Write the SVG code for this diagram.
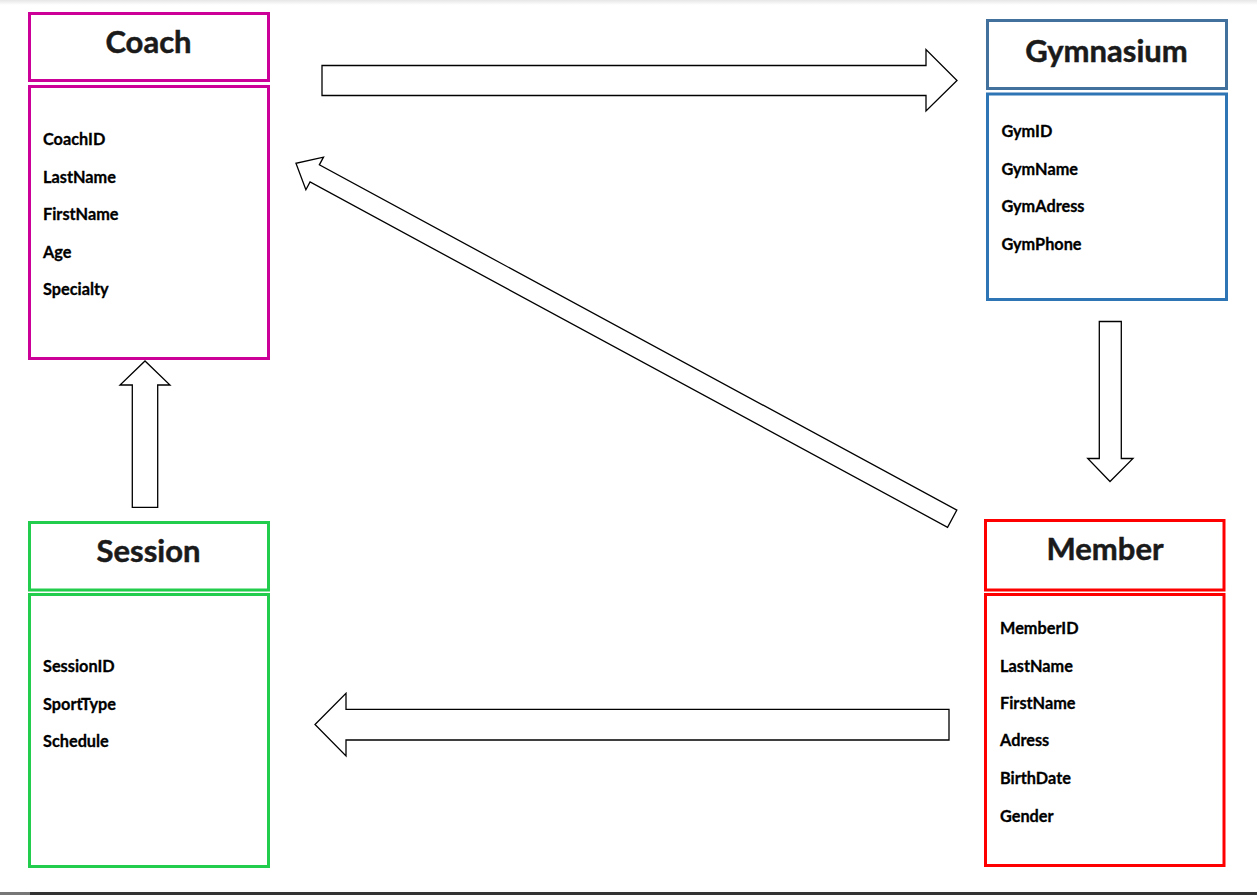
<svg xmlns="http://www.w3.org/2000/svg" width="1257" height="895" viewBox="0 0 1257 895">
  <defs>
    <linearGradient id="topShade" x1="0" y1="0" x2="0" y2="1">
      <stop offset="0" stop-color="#e6e6e6"/>
      <stop offset="1" stop-color="#ffffff"/>
    </linearGradient>
    <style>
      .box { fill: #ffffff; stroke-width: 3; }
      .title { font-family: Lato, "Open Sans", "Liberation Sans", sans-serif; font-weight: bold; font-size: 31px; fill: #1a1a1a; stroke: #1a1a1a; stroke-width: 0.5; text-anchor: middle; }
      .attr { font-family: Lato, "Open Sans", "Liberation Sans", sans-serif; font-weight: bold; font-size: 16.3px; fill: #000000; stroke: #000000; stroke-width: 0.3; }
      .arrow { fill: #ffffff; stroke: #000000; stroke-width: 1.3; stroke-linejoin: miter; }
      .coach { stroke: #cc0099; }
      .gymh { stroke: #41719c; }
      .gymb { stroke: #2e75b6; }
      .session { stroke: #22cc4c; }
      .member { stroke: #ff0000; }
    </style>
  </defs>
  <rect x="0" y="0" width="1257" height="895" fill="#ffffff"/>
  <rect x="0" y="0" width="1257" height="5" fill="url(#topShade)"/>
  <rect x="0" y="892" width="30" height="3" fill="#777777"/>
  <rect x="30" y="892" width="1227" height="3" fill="#333333"/>

  <g id="connectors">
    <!-- Coach -> Gymnasium -->
    <polygon class="arrow" points="322,65.5 926,65.5 926,49.5 957,80.5 926,111 926,95.5 322,95.5"/>
    <!-- Member -> Coach (diagonal) -->
    <polygon class="arrow" transform="translate(952.2,518.7) rotate(28.44)" points="0,-9.75 -725,-9.75 -725,-18.5 -746.3,0 -725,18.5 -725,9.75 0,9.75"/>
    <!-- Gymnasium -> Member -->
    <polygon class="arrow" points="1099.3,321.5 1121.3,321.5 1121.3,458.5 1133,458.5 1110,481.5 1087.7,458.5 1099.3,458.5"/>
    <!-- Session -> Coach -->
    <polygon class="arrow" points="132.3,507.3 157.7,507.3 157.7,385 170,385 145,361 120,385 132.3,385"/>
    <!-- Member -> Session -->
    <polygon class="arrow" points="949,709.3 346,709.3 346,693.3 315,724.5 346,756 346,740 949,740"/>
  </g>

  <g id="coach">
    <rect class="box coach" x="29.5" y="13.5" width="239" height="67"/>
    <rect class="box coach" x="29.5" y="86.5" width="239" height="272"/>
    <text class="title" x="148.5" y="53">Coach</text>
    <text class="attr" x="43" y="145">CoachID</text>
    <text class="attr" x="43" y="183">LastName</text>
    <text class="attr" x="43" y="220">FirstName</text>
    <text class="attr" x="43" y="258">Age</text>
    <text class="attr" x="43" y="295">Specialty</text>
  </g>

  <g id="gymnasium">
    <rect class="box gymh" x="987.5" y="20.5" width="239" height="68"/>
    <rect class="box gymb" x="987.5" y="94" width="239" height="205.5"/>
    <text class="title" x="1106.5" y="61.5">Gymnasium</text>
    <text class="attr" x="1001.5" y="137">GymID</text>
    <text class="attr" x="1001.5" y="175">GymName</text>
    <text class="attr" x="1001.5" y="212">GymAdress</text>
    <text class="attr" x="1001.5" y="250">GymPhone</text>
  </g>

  <g id="session">
    <rect class="box session" x="29.5" y="522.5" width="239" height="67.5"/>
    <rect class="box session" x="29.5" y="594.5" width="239" height="272"/>
    <text class="title" x="148.5" y="562">Session</text>
    <text class="attr" x="43" y="672">SessionID</text>
    <text class="attr" x="43" y="710">SportType</text>
    <text class="attr" x="43" y="747">Schedule</text>
  </g>

  <g id="member">
    <rect class="box member" x="985.5" y="520.5" width="238.5" height="69.5"/>
    <rect class="box member" x="985.5" y="594.5" width="238.5" height="271"/>
    <text class="title" x="1105" y="560">Member</text>
    <text class="attr" x="1000" y="634">MemberID</text>
    <text class="attr" x="1000" y="672">LastName</text>
    <text class="attr" x="1000" y="709">FirstName</text>
    <text class="attr" x="1000" y="746">Adress</text>
    <text class="attr" x="1000" y="784">BirthDate</text>
    <text class="attr" x="1000" y="822">Gender</text>
  </g>
</svg>
